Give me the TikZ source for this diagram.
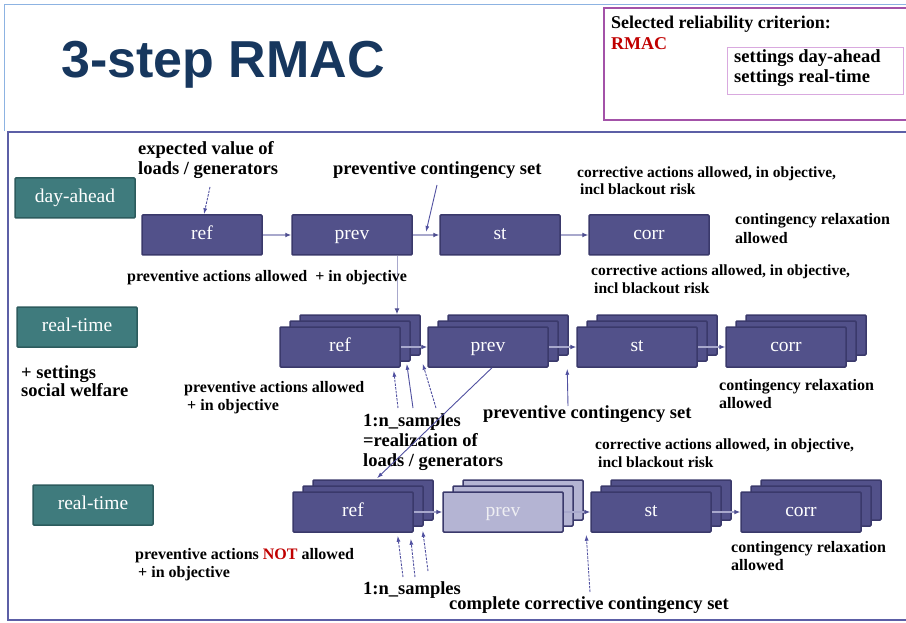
\documentclass[tikz,border=0pt]{standalone}
\usepackage{fontspec}
\setmainfont{Liberation Serif}
\newfontfamily\titlefont{Liberation Sans}
\usepackage{tikz}
\usetikzlibrary{arrows.meta, shadows, calc}

\definecolor{boxfill}{HTML}{52518A}
\definecolor{boxline}{HTML}{3A396B}
\definecolor{boxlight}{HTML}{B4B4D3}
\definecolor{tealfill}{HTML}{3F7B7D}
\definecolor{tealline}{HTML}{2C5B5D}
\definecolor{flowline}{HTML}{A8A8CC}
\definecolor{tipblue}{HTML}{4E4E90}
\definecolor{noteline}{HTML}{5050A0}
\definecolor{titleblue}{HTML}{17375E}
\definecolor{frameblue}{HTML}{5C5FA6}
\definecolor{skyline}{HTML}{8DB3E2}
\definecolor{critpurple}{HTML}{A352A8}
\definecolor{critpink}{HTML}{D9A9DF}
\definecolor{rmacred}{HTML}{C00000}

\tikzset{
  stage/.style={draw=boxline, fill=boxfill, line width=1.5pt, rounded corners=1pt,
    minimum width=120pt, minimum height=40pt, text=white,
    text height=13pt, text depth=4pt,
    font=\fontsize{19.5}{22}\selectfont},
  stack/.style={stage,
    copy shadow={shadow xshift=20pt, shadow yshift=12pt},
    copy shadow={shadow xshift=10pt, shadow yshift=6pt}},
  horizon/.style={draw=tealline, fill=tealfill, line width=1.5pt, rounded corners=1pt,
    minimum width=120pt, minimum height=40pt, text=white,
    text height=13pt, text depth=4pt,
    font=\fontsize{19.5}{22}\selectfont},
  flow/.style={draw=flowline, line width=1.3pt, -{Latex[length=6pt,width=5pt,color=tipblue]}},
  hint/.style={draw=noteline, line width=0.9pt, -{Latex[length=6pt,width=4pt]}},
  dotty/.style={hint, dash pattern=on 2.5pt off 1.2pt},
  bignote/.style={anchor=west, align=left, inner sep=0pt,
    font=\bfseries\fontsize{18.5}{20}\selectfont},
  smallnote/.style={anchor=west, align=left, inner sep=0pt,
    font=\bfseries\fontsize{16}{18}\selectfont},
}

\begin{document}
\begin{tikzpicture}[x=1pt, y=-1pt]
  \useasboundingbox (0,0) rectangle (906,623);

  % -- frames --
  \draw[skyline, line width=1.2pt] (4.5,131) -- (4.5,4.5) -- (910,4.5);
  \draw[frameblue, line width=2.5pt] (912,132) -- (8,132) -- (8,620) -- (912,620);
  \draw[critpurple, line width=2.8pt] (912,8) -- (604,8) -- (604,120) -- (912,120);
  \draw[critpink, line width=0.8pt] (727,47) rectangle (903,94);

  % -- title and criterion --
  \node[font=\titlefont\bfseries\fontsize{52}{56}\selectfont, text=titleblue] (title) at (223,65) {3-step RMAC};
  \node[bignote, font=\bfseries\fontsize{18}{21}\selectfont] (crit) at (611,32.5)
    {Selected reliability criterion:\\\textcolor{rmacred}{RMAC}};
  \node[bignote, font=\bfseries\fontsize{18.5}{20}\selectfont] (sets) at (734,68)
    {settings day-ahead\\settings real-time};

  % -- horizons --
  \node[horizon] (da) at (75,198) {day-ahead};
  \node[horizon] (rt1) at (77,327) {real-time};
  \node[horizon] (rt2) at (93,505) {real-time};

  % -- day-ahead chain --
  \node[stage] (ref1) at (202,235) {ref};
  \node[stage] (prev1) at (352,235) {prev};
  \node[stage] (st1) at (500,235) {st};
  \node[stage] (corr1) at (649,235) {corr};

  % -- real-time chain with samples --
  \node[stack] (ref2) at (340,347) {ref};
  \node[stack] (prev2) at (488,347) {prev};
  \node[stack] (st2) at (637,347) {st};
  \node[stack] (corr2) at (786,347) {corr};

  % -- real-time chain, no preventive step --
  \node[stack] (ref3) at (353,512) {ref};
  \node[stack, fill=boxlight, text=white!92!boxline] (prev3) at (503,512) {prev};
  \node[stack] (st3) at (651,512) {st};
  \node[stack] (corr3) at (801,512) {corr};

  \foreach \a/\b in {ref1/prev1, prev1/st1, st1/corr1,
                     ref2/prev2, prev2/st2, st2/corr2,
                     ref3/prev3, prev3/st3, st3/corr3}{
    \draw[flow] (\a) -- (\b);
  }
  \draw[flow, line width=1pt] ([xshift=45pt]prev1.south) -- ([xshift=57pt,yshift=12pt]ref2.north);

  % -- notes, day-ahead --
  \node[bignote] (exp) at (138,160) {expected value of\\loads / generators};
  \node[bignote] (pcs1) at (333,170) {preventive contingency set};
  \node[smallnote, font=\bfseries\fontsize{15.5}{17}\selectfont] (ca1) at (577,180.5)
    {corrective actions allowed, in objective,\\\hspace{3pt}incl blackout risk};
  \node[smallnote, font=\bfseries\fontsize{16}{19}\selectfont] (cr1) at (735,228.5)
    {contingency relaxation\\allowed};
  \node[smallnote] (pa1) at (127,278) {preventive actions allowed \ + in objective};
  \node[smallnote, font=\bfseries\fontsize{15.5}{18}\selectfont] (ca2) at (591,279)
    {corrective actions allowed, in objective,\\\hspace{3pt}incl blackout risk};

  \coordinate (e1) at (210,187);
  \draw[dotty] (e1) -- ([xshift=2pt]ref1.north);
  \coordinate (p1) at (437,185);
  \draw[hint] (p1) -- ($(prev1.east)!0.5!(st1.west)+(0,-3)$);

  % -- notes, real-time --
  \node[bignote, font=\bfseries\fontsize{18.5}{18}\selectfont] (welf) at (21,381)
    {+ settings\\social welfare};
  \node[smallnote] (pa2) at (184,398) {preventive actions allowed\\\hspace{3pt}+ in objective};
  \node[bignote] (samp1) at (363,442) {1:n\_samples\\=realization of\\loads / generators};
  \node[bignote] (pcs2) at (483,414) {preventive contingency set};
  \node[smallnote] (cr2) at (719,394) {contingency relaxation\\allowed};
  \node[smallnote, font=\bfseries\fontsize{15.5}{18}\selectfont] (ca3) at (595,453)
    {corrective actions allowed, in objective,\\\hspace{3pt}incl blackout risk};

  \foreach \i/\tx/\hx/\hy/\sty in {1/398/-7/-3/dotty, 2/413/6/4/hint, 3/436/22/4/dotty}{
    \coordinate (sa\i) at (\tx,408);
    \draw[\sty] (sa\i) -- ([xshift=\hx pt, yshift=\hy pt]ref2.south east);
  }
  \draw[hint] ([xshift=4pt]prev2.south) -- ([xshift=24pt,yshift=13pt]ref3.north);
  \coordinate (p2) at (568,406);
  \draw[hint] (p2) -- ([xshift=-9pt,yshift=-1pt]st2.south west);

  % -- notes, real-time without preventive --
  \node[smallnote] (pa3) at (135,565)
    {preventive actions \textcolor{rmacred}{NOT} allowed\\\hspace{3pt}+ in objective};
  \node[bignote] (samp2) at (363,590) {1:n\_samples};
  \node[bignote] (ccs) at (449,605) {complete corrective contingency set};
  \node[smallnote] (cr3) at (731,556) {contingency relaxation\\allowed};

  \foreach \i/\tx/\ty/\hx/\hy in {1/403/577/-16/-3, 2/415/577/-3/-6, 3/428/571/9/2}{
    \coordinate (sb\i) at (\tx,\ty);
    \draw[dotty] (sb\i) -- ([xshift=\hx pt, yshift=\hy pt]ref3.south east);
  }
  \coordinate (c3) at (590,592);
  \draw[dotty] (c3) -- ([xshift=-4pt,yshift=-2pt]st3.south west);
\end{tikzpicture}
\end{document}
